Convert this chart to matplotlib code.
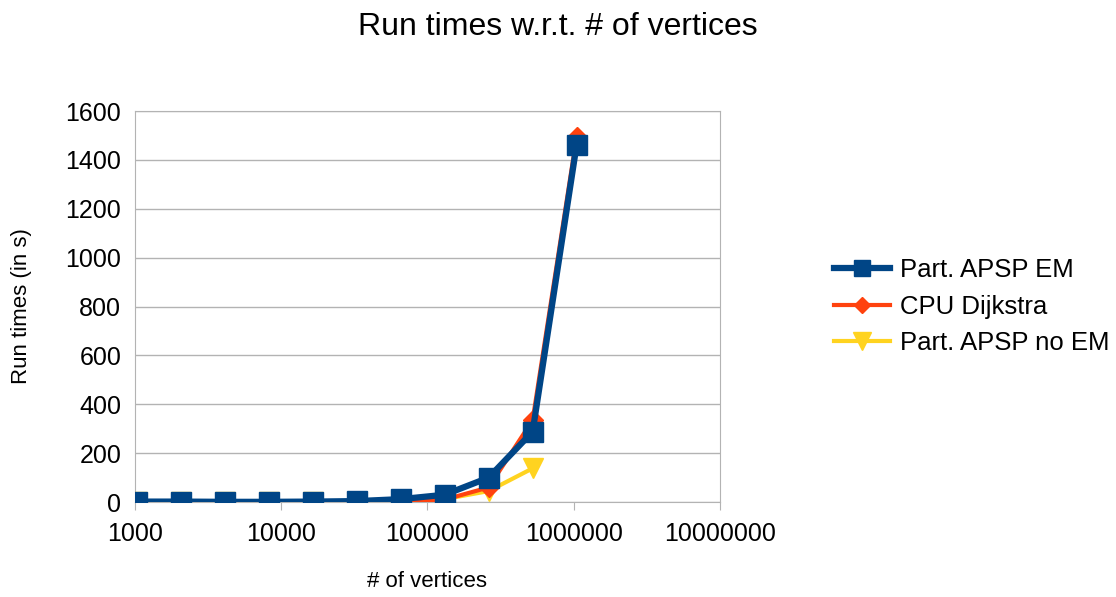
import matplotlib
matplotlib.use("Agg")
import matplotlib.pyplot as plt

plt.rcParams['font.family'] = ['Liberation Sans', 'DejaVu Sans']

vertices = [1024, 2048, 4096, 8192, 16384, 32768, 65536, 131072, 262144, 524288, 1048576]
apsp_em = [2, 2, 1, 1, 2, 4, 12, 30, 100, 288, 1462]
cpu_dijkstra = [0, 0, 0, 0, 0, 1, 3, 10, 60, 335, 1495]
vertices_noem = [1024, 2048, 4096, 8192, 16384, 32768, 65536, 131072, 262144, 524288]
apsp_noem = [0, 0, 0, 0, 0, 1, 3, 12, 45, 138]

yticks = [0, 200, 400, 600, 800, 1000, 1200, 1400, 1600]
xticks = [1000, 10000, 100000, 1000000, 10000000]
xticklabels = ['1000', '10000', '100000', '1000000', '10000000']

fig = plt.figure(figsize=(11.16, 5.97), dpi=100)
ax = fig.add_axes([0.121, 0.159, 0.524, 0.655])

ax.plot(vertices_noem, apsp_noem, color='#ffd320', lw=3, marker='v', ms=15,
        label='Part. APSP no EM', zorder=3)
ax.plot(vertices, cpu_dijkstra, color='#ff420e', lw=3, marker='D', ms=10,
        label='CPU Dijkstra', zorder=4)
ax.plot(vertices, apsp_em, color='#004586', lw=4.5, marker='s', ms=14,
        label='Part. APSP EM', zorder=5)

ax.set_xscale('log')
ax.set_xlim(1000, 10000000)
ax.set_ylim(0, 1600)
ax.set_xticks(xticks)
ax.set_xticklabels(xticklabels)
ax.xaxis.set_minor_locator(matplotlib.ticker.NullLocator())
ax.set_yticks(yticks)
ax.tick_params(axis='both', labelsize=18, colors='#b3b3b3', labelcolor='black',
               length=6, direction='out')
ax.tick_params(axis='y', length=0, pad=10)
ax.tick_params(axis='x', pad=8)
ax.grid(axis='y', color='#b3b3b3', lw=1)
ax.set_axisbelow(True)
for s in ax.spines.values():
    s.set_color('#b3b3b3')

ax.set_xlabel('# of vertices', fontsize=16, labelpad=18)
ax.set_ylabel('Run times (in s)', fontsize=16, labelpad=24)
fig.suptitle('Run times w.r.t. # of vertices', fontsize=23, y=0.98)

handles, labels = ax.get_legend_handles_labels()
order = [2, 1, 0]
ax.legend([handles[i] for i in order], [labels[i] for i in order],
          loc='center left', bbox_to_anchor=(1.155, 0.5), frameon=False,
          fontsize=18.5, handlelength=2.2, labelspacing=0.5, handletextpad=0.4,
          markerscale=0.85)

fig.savefig('out.png', dpi=100)
